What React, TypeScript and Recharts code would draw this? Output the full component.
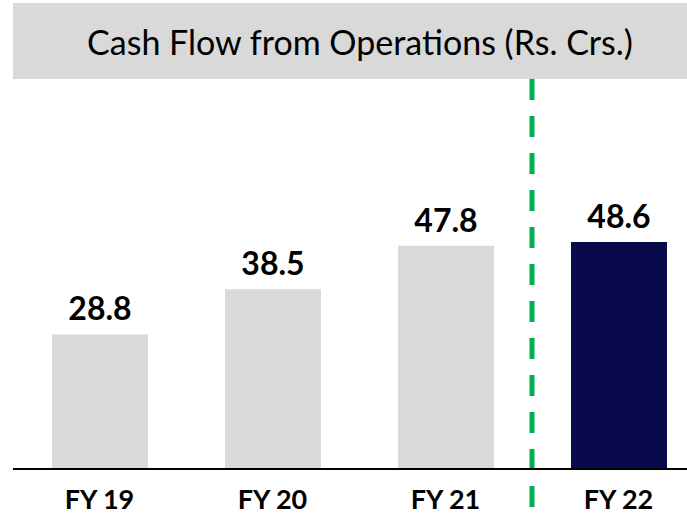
import { BarChart, Bar, XAxis, YAxis, ReferenceLine, LabelList, Cell } from 'recharts';

const YEARS = ['FY 19', 'FY 20', 'FY 21', 'FY 22'];
const CFO = [28.8, 38.5, 47.8, 48.6];
const BAR_COLORS = ['#D9D9D9', '#D9D9D9', '#D9D9D9', '#080A4B'];
const TITLE = 'Cash Flow from Operations (Rs. Crs.)';

const XAXIS_H = 46;

// Ligne pointillée verte entre FY 21 et FY 22, prolongée sous l'axe.
function Divider(props: any) {
  const { x1, y1, y2 } = props;
  const top = Math.min(y1, y2);
  const bottom = Math.max(y1, y2) + XAXIS_H;
  return <line x1={x1} x2={x1} y1={top} y2={bottom} stroke="#00B050" strokeWidth={5} strokeDasharray="21 16" />;
}

export default function App() {
  const rows = YEARS.map((y, i) => ({ year: y, value: CFO[i] }));
  return (
    <div style={{ position: 'absolute', left: 0, top: 0, width: 687, height: 515, overflow: 'hidden', background: '#fff' }}>
      <BarChart width={710} height={515} data={rows} margin={{ top: 79, right: 5, left: 13, bottom: 0 }}>
        <YAxis hide domain={[0, 83.5]} />
        <XAxis
          dataKey="year"
          height={XAXIS_H}
          axisLine={{ stroke: '#000', strokeWidth: 2 }}
          tickLine={false}
          tick={{ fontSize: 27, fontWeight: 700, fill: '#000', fontFamily: 'Lato' }}
          tickMargin={15}
        />
        <Bar dataKey="value" barSize={96} isAnimationActive={false}>
          {rows.map((r, i) => <Cell key={r.year} fill={BAR_COLORS[i]} />)}
          <LabelList dataKey="value" position="top" offset={14} style={{ fontSize: 32, fontWeight: 700, fill: '#000', fontFamily: 'Lato' }} />
        </Bar>
        <ReferenceLine x="FY 22" position="start" shape={Divider} />
      </BarChart>
      <div style={{
        position: 'absolute', left: 13, top: 3, width: 694, height: 76, background: '#D9D9D9',
        display: 'flex', alignItems: 'center', justifyContent: 'center',
        fontFamily: 'Lato', fontSize: 34, color: '#000',
      }}>
        {TITLE}
      </div>
    </div>
  );
}
